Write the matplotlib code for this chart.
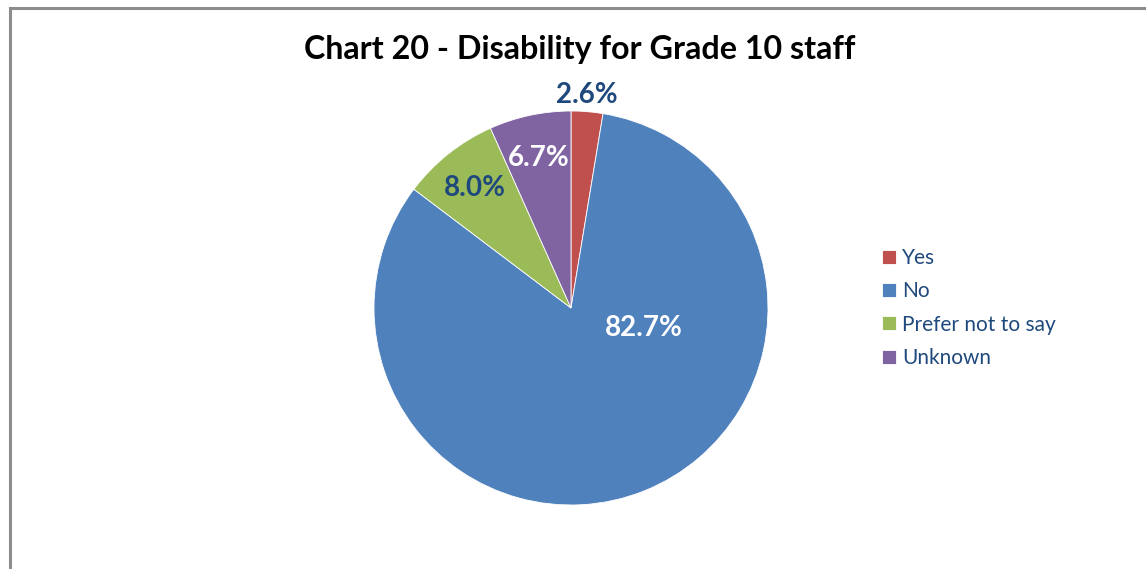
import matplotlib.pyplot as plt
from matplotlib.lines import Line2D

plt.rcParams['font.family'] = ['Lato', 'DejaVu Sans']

# data
labels = ['Yes', 'No', 'Prefer not to say', 'Unknown']
values = [2.6, 82.7, 8.0, 6.7]
colors = ['#C0504D', '#4F81BD', '#9BBB59', '#8064A2']
pct_colors = ['#1F497D', 'white', '#1F497D', 'white']

W, H = 1146, 569
fig = plt.figure(figsize=(W / 100, H / 100), dpi=100)

# pie centre (571, 308) px, radius 197 px
cx, cy, r = 571, 308, 197
ax = fig.add_axes([(cx - r) / W, (H - cy - r) / H, 2 * r / W, 2 * r / H])
wedges, texts, autotexts = ax.pie(values, colors=colors, startangle=90, counterclock=False,
                                  autopct='%.1f%%', pctdistance=0.78, radius=1,
                                  wedgeprops=dict(edgecolor='white', linewidth=0.6))
ax.set_xlim(-1, 1)
ax.set_ylim(-1, 1)
ax.axis('off')

for t, c in zip(autotexts, pct_colors):
    t.set_color(c)
    t.set_fontsize(20)
    t.set_fontweight('bold')

# label placement like the original
autotexts[0].set_position((0.08, 1.08))
autotexts[1].set_position((0.37, -0.10))

fig.text(580 / W, 1 - 50 / H, 'Chart 20 - Disability for Grade 10 staff',
         ha='center', va='center', fontsize=23.2, fontweight='bold', color='black')

fig.legend(wedges, labels, loc='center left', bbox_to_anchor=(882 / W, 1 - 308 / H),
           frameon=False, fontsize=15, labelcolor='#1F497D', handlelength=0.65,
           handleheight=0.65, handletextpad=0.3, labelspacing=0.64, borderpad=0,
           borderaxespad=0)

# chart border (left and top only visible)
fig.add_artist(Line2D([10 / W, 10 / W], [0, 1 - 8 / H], color='#8c8c8c', linewidth=2.2,
                      transform=fig.transFigure))
fig.add_artist(Line2D([10 / W, 1], [1 - 8 / H, 1 - 8 / H], color='#8c8c8c', linewidth=2.2,
                      transform=fig.transFigure))

fig.savefig('out.png', dpi=100)
